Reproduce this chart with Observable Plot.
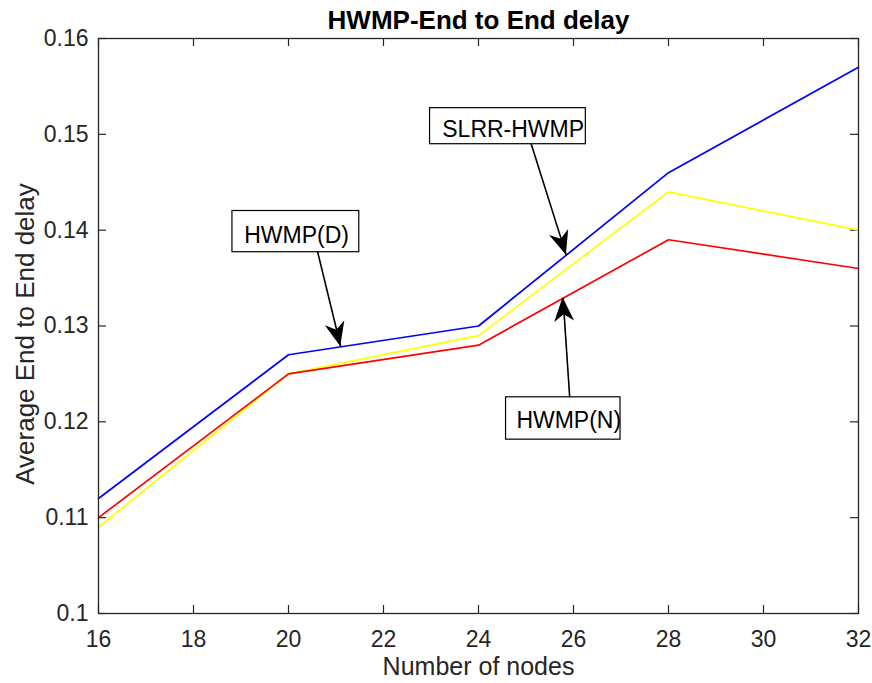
<!DOCTYPE html>
<html><head><meta charset="utf-8">
<script src="https://cdn.jsdelivr.net/npm/d3@7"></script>
<script src="https://cdn.jsdelivr.net/npm/@observablehq/plot@0.6"></script>
<style>body{margin:0;background:#fff} #chart{width:872px;height:683px}</style>
</head><body><div id="chart"></div>
<script>
// ---- data ----
const nodes = [16, 20, 24, 28, 32];
const blueSeries = [0.112, 0.127, 0.130, 0.146, 0.157];
const yellowSeries = [0.109, 0.125, 0.129, 0.144, 0.140];
const redSeries = [0.110, 0.125, 0.128, 0.139, 0.136];
const seriesNames = ["SLRR-HWMP", "HWMP(D)", "HWMP(N)"];
const seriesColors = ["#0000ff", "#ffff00", "#ff0000"];
const xTicks = [16, 18, 20, 22, 24, 26, 28, 30, 32];
const yTicks = [0.10, 0.11, 0.12, 0.13, 0.14, 0.15, 0.16];
const titleText = "HWMP-End to End delay";
const xLabel = "Number of nodes";
const yLabel = "Average End to End delay";

// annotations (data coordinates)
const annotLabels = ["HWMP(D)", "SLRR-HWMP", "HWMP(N)"];
const annotTextX = [20.17, 24.73, 25.90];
const annotTextY = [0.1394, 0.1505, 0.1201];
const annotBoxX1 = [18.82, 22.98, 24.58];
const annotBoxX2 = [21.49, 26.26, 26.99];
const annotBoxY1 = [0.1420, 0.15273, 0.12256];
const annotBoxY2 = [0.1377, 0.14897, 0.11814];
const arrowTailX = [20.61, 25.11, 25.92];
const arrowTailY = [0.1378, 0.1490, 0.12256];
const arrowTipX = [21.10, 25.85, 25.78];
const arrowTipY = [0.12783, 0.13737, 0.13294];

const allSeries = [blueSeries, yellowSeries, redSeries];
const lineData = allSeries.map((vals, i) => nodes.map((x, j) => ({x, y: vals[j], name: seriesNames[i]})));
const annots = annotLabels.map((label, i) => ({
  label, tx: annotTextX[i], ty: annotTextY[i],
  bx1: annotBoxX1[i], bx2: annotBoxX2[i], by1: annotBoxY1[i], by2: annotBoxY2[i],
  ax: arrowTailX[i], ay: arrowTailY[i], hx: arrowTipX[i], hy: arrowTipY[i]
}));

const W = 872, H = 683, mL = 98, mR = 14, mT = 38, mB = 70;
const fw = W - mL - mR, fh = H - mT - mB;
const axisColor = "#262626";
const font = "'Liberation Sans', Arial, Helvetica, sans-serif";

const chart = Plot.plot({
  width: W, height: H,
  marginLeft: mL, marginRight: mR, marginTop: mT, marginBottom: mB,
  style: {fontFamily: font, background: "#fff", color: axisColor},
  x: {domain: [16, 32]},
  y: {domain: [0.1, 0.16]},
  marks: [
    // inward ticks on all four sides
    Plot.gridX(xTicks, {insetTop: fh - 8, stroke: axisColor, strokeOpacity: 1, strokeWidth: 1.2}),
    Plot.gridX(xTicks, {insetBottom: fh - 8, stroke: axisColor, strokeOpacity: 1, strokeWidth: 1.2}),
    Plot.gridY(yTicks, {insetRight: fw - 8, stroke: axisColor, strokeOpacity: 1, strokeWidth: 1.2}),
    Plot.gridY(yTicks, {insetLeft: fw - 8, stroke: axisColor, strokeOpacity: 1, strokeWidth: 1.2}),
    Plot.axisX(xTicks, {anchor: "bottom", tickSize: 0, tickPadding: 17, fontSize: 23, fill: axisColor, tickFormat: d => String(d), label: null}),
    Plot.axisY(yTicks, {anchor: "left", tickSize: 0, tickPadding: 10, fontSize: 23, fill: axisColor, tickFormat: d => String(+d.toFixed(2)), label: null}),
    ...lineData.map((d, i) => Plot.line(d, {x: "x", y: "y", stroke: seriesColors[i], strokeWidth: 1.7})),
    Plot.frame({stroke: axisColor, strokeWidth: 1.3}),
    Plot.rect(annots, {x1: "bx1", x2: "bx2", y1: "by1", y2: "by2", fill: "white", stroke: "black", strokeWidth: 1.2}),
    Plot.text(annots, {x: "tx", y: "ty", text: "label", fontSize: 23, fill: "black"}),
    Plot.link(annots, {x1: "ax", y1: "ay", x2: "hx", y2: "hy", stroke: "black", strokeWidth: 1.6}),
    Plot.text([titleText], {frameAnchor: "top", dy: -10, lineAnchor: "bottom", fontWeight: "bold", fontSize: 26, fill: "black"}),
    Plot.text([xLabel], {frameAnchor: "bottom", dy: 44, lineAnchor: "top", fontSize: 25, fill: axisColor}),
    Plot.text([yLabel], {frameAnchor: "left", textAnchor: "middle", dx: -73, dy: 8, rotate: -90, lineAnchor: "middle", fontSize: 26, fill: axisColor})
  ]
});
document.getElementById("chart").appendChild(chart);

// filled MATLAB-style arrow heads positioned through the plot's scales
const sx = chart.scale("x"), sy = chart.scale("y");
const g = d3.select(chart).append("g");
annots.forEach(a => {
  const x0 = sx.apply(a.ax), y0 = sy.apply(a.ay);
  const x1 = sx.apply(a.hx), y1 = sy.apply(a.hy);
  const dx = x1 - x0, dy = y1 - y0, len = Math.hypot(dx, dy);
  const ux = dx / len, uy = dy / len, px = -uy, py = ux;
  const L = 24, Wd = 10, N = 17;
  const bx = x1 - ux * L, by = y1 - uy * L;
  const nx = x1 - ux * N, ny = y1 - uy * N;
  const pts = [[x1, y1], [bx + px * Wd, by + py * Wd], [nx, ny], [bx - px * Wd, by - py * Wd]];
  g.append("path").attr("d", "M" + pts.map(p => p.join(",")).join("L") + "Z").attr("fill", "black");
});
</script>
</body></html>
